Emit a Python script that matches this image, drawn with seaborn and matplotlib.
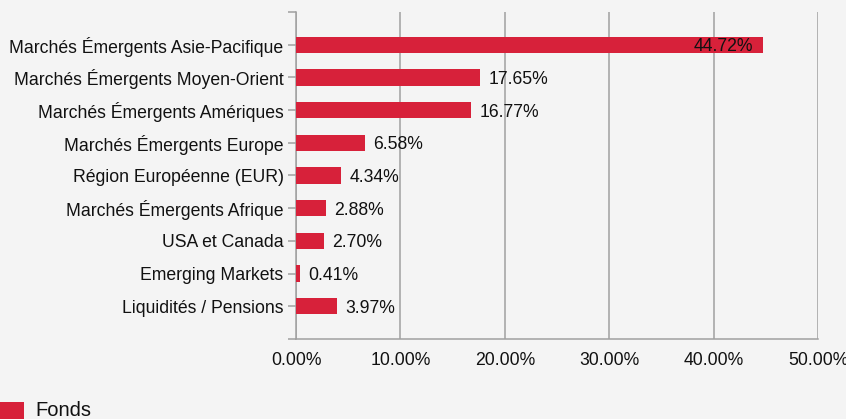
import matplotlib
matplotlib.use("Agg")
import matplotlib.pyplot as plt
from matplotlib.patches import Rectangle
import seaborn as sns
import pandas as pd

regions = ["Marchés Émergents Asie-Pacifique", "Marchés Émergents Moyen-Orient",
           "Marchés Émergents Amériques", "Marchés Émergents Europe",
           "Région Européenne (EUR)", "Marchés Émergents Afrique",
           "USA et Canada", "Emerging Markets", "Liquidités / Pensions"]
weights = [44.72, 17.65, 16.77, 6.58, 4.34, 2.88, 2.70, 0.41, 3.97]
xticks = [0, 10, 20, 30, 40, 50]

bg = "#f4f4f4"
red = "#d7213a"
grey = "#a0a0a0"
fs = 12.7

sns.set_theme(style="white")
plt.rcParams["font.family"] = ["Liberation Sans", "DejaVu Sans"]

df = pd.DataFrame({"region": regions, "weight": weights})

fig = plt.figure(figsize=(8.46, 4.19), dpi=100, facecolor=bg)
ax = fig.add_axes([296 / 846, 1 - 339 / 419, 522 / 846, 327 / 419])
ax.set_facecolor(bg)

sns.barplot(data=df, x="weight", y="region", color=red, width=0.5,
            saturation=1, linewidth=0, ax=ax, zorder=3)

ax.set_xlim(0, 50)
ax.set_ylim(9, -1)
ax.set_xticks(xticks)
ax.set_xticklabels([f"{t:.2f}%" for t in xticks], fontsize=fs, color="#111111")
ax.set_xlabel("")
ax.set_ylabel("")
ax.tick_params(axis="x", length=0, pad=9)
ax.tick_params(axis="y", length=6, width=1.1, color=grey, labelsize=fs,
               labelcolor="#111111", pad=3, left=True)
ax.set_yticks([-1, 9], minor=True)
ax.tick_params(axis="y", which="minor", length=6, width=1.1, color=grey, left=True)

ax.xaxis.grid(True, color=grey, linewidth=1.1)
ax.set_axisbelow(True)
for side in ["top", "right"]:
    ax.spines[side].set_visible(False)
ax.spines["left"].set_color(grey)
ax.spines["left"].set_linewidth(1.1)
ax.spines["bottom"].set_color(grey)
ax.spines["bottom"].set_linewidth(1.1)

for i, v in enumerate(weights):
    label = f"{v:.2f}%"
    if v > 40:
        ax.annotate(label, (v, i), xytext=(-7, 0), textcoords="offset points",
                    ha="right", va="center_baseline", fontsize=fs, color="#111111", zorder=4)
    else:
        ax.annotate(label, (v, i), xytext=(6, 0), textcoords="offset points",
                    ha="left", va="center_baseline", fontsize=fs, color="#111111", zorder=4)

# legend
fig.patches.append(Rectangle((0, 0), 24 / 846, 17 / 419, transform=fig.transFigure,
                             facecolor=red, edgecolor="none"))
fig.text(35 / 846, 1 - 410 / 419, "Fonds", fontsize=14.5, va="center", ha="left",
         color="#111111")

fig.savefig("out.png", dpi=100, facecolor=bg)
